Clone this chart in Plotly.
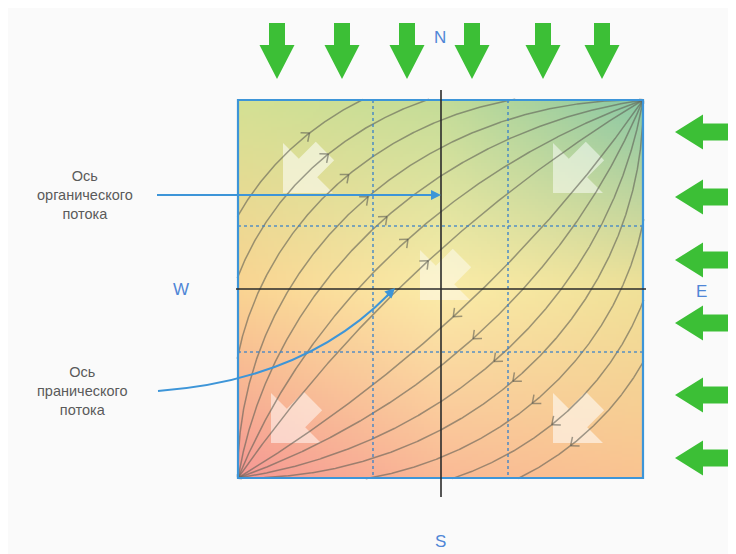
import numpy as np
import plotly.graph_objects as go

# ---------------- data ----------------
CANVAS_W, CANVAS_H = 736, 554
PAGE_OFFSET = 8  # browser body margin compensation
SQUARE = dict(left=238, right=643, top=100, bottom=478)
AXIS_X, AXIS_Y = 441, 289
GRID_X = [373, 508]
GRID_Y = [226, 352]

# departure angles (deg, relative to the diagonal) of the circular flow lines
ARC_ANGLES_UPPER = [12, 24, 36, 46, 56, 65, 73]
ARC_ANGLES_LOWER = [12, 24, 36, 46, 56, 65, 73]
GUIDE_UPPER = [(310, 133), (428, 260)]
GUIDE_LOWER = [(455, 318), (573, 447)]

TOP_ARROW_X = [277, 342, 407, 472, 543, 602]
RIGHT_ARROW_Y = [132, 197, 260, 323, 395, 458]

# white translucent arrows (tip positions, pointing south-west)
WHITE_ARROW_TIPS = [(283, 193), (553, 193), (271, 443), (553, 443), (420, 300)]
WHITE_ARROW_ALPHA = [0.55, 0.5, 0.5, 0.55, 0.45]

COMPASS = [("N", 440, 37), ("S", 440, 541), ("W", 181, 289), ("E", 701, 291)]
LABEL_ORGANIC = ["Ось", "органического", "потока"]
LABEL_PRANIC = ["Ось", "пранического", "потока"]

# background colour nodes (3x3: rows top->bottom, cols left->right)
BG_NODES = [
    [(212, 225, 148), (196, 220, 152), (138, 200, 165)],
    [(250, 212, 146), (251, 236, 168), (240, 225, 152)],
    [(246, 152, 148), (250, 186, 150), (250, 196, 145)],
]

GREEN = "#3cbf36"
BLUE = "#3d95d8"
CURVE_COLOR = "rgba(95,95,85,0.6)"

# ---------------- helpers ----------------
L, R, T, B = SQUARE["left"], SQUARE["right"], SQUARE["top"], SQUARE["bottom"]
SW, SH = R - L, B - T


def to_px(u, v):
    return L + np.asarray(u) * SW, B - np.asarray(v) * SH


fig = go.Figure()

# background gradient
nx, ny = 135, 126
nodes = np.array(BG_NODES, dtype=float)
uu = np.linspace(0, 2, nx)
vv = np.linspace(0, 2, ny)
img = np.zeros((ny, nx, 3))
for j, v in enumerate(vv):
    r0 = int(min(np.floor(v), 1)); fv = v - r0
    for i, u in enumerate(uu):
        c0 = int(min(np.floor(u), 1)); fu = u - c0
        top = nodes[r0, c0] * (1 - fu) + nodes[r0, c0 + 1] * fu
        bot = nodes[r0 + 1, c0] * (1 - fu) + nodes[r0 + 1, c0 + 1] * fu
        img[j, i] = top * (1 - fv) + bot * fv
dx, dy = SW / nx, SH / ny
fig.add_trace(go.Image(z=img.astype(np.uint8), x0=L + dx / 2, dx=dx, y0=T + dy / 2, dy=dy,
                       hoverinfo="skip"))


# white translucent arrows
def sw_arrow(tx, ty, head=50, shaft_w=26, shaft_len=24):
    s = 1 / np.sqrt(2)
    mx, my = tx + head / 2, ty - head / 2
    px_, py_ = shaft_w / 2 * s, shaft_w / 2 * s
    ex, ey = shaft_len * s, -shaft_len * s
    pts = [(tx, ty), (tx + head, ty), (mx + px_, my + py_), (mx + px_ + ex, my + py_ + ey),
           (mx - px_ + ex, my - py_ + ey), (mx - px_, my - py_), (tx, ty - head), (tx, ty)]
    return [p[0] for p in pts], [p[1] for p in pts]


for (tx, ty), a in zip(WHITE_ARROW_TIPS, WHITE_ARROW_ALPHA):
    xs, ys = sw_arrow(tx, ty)
    fig.add_trace(go.Scatter(x=xs, y=ys, mode="lines", fill="toself",
                             fillcolor=f"rgba(255,255,255,{a})", line=dict(width=0),
                             hoverinfo="skip", showlegend=False))


# flow curves: circular arcs through the two corners
def arc_upper(alpha_deg, n=700):
    a = np.radians(alpha_deg)
    c = 0.5 + 0.5 / np.tan(a)
    cu, cv = c, 1 - c
    r = np.hypot(c, 1 - c)
    phiA = np.arctan2(-cv, -cu)
    t = np.linspace(0, 1, n)
    phi = phiA - 2 * a * t
    return cu + r * np.cos(phi), cv + r * np.sin(phi)


def clip(u, v):
    inside = (u >= -0.002) & (u <= 1.002) & (v >= -0.002) & (v <= 1.002)
    X, Y = to_px(u, v)
    X = [float(x) if k else None for x, k in zip(X, inside)]
    Y = [float(y) if k else None for y, k in zip(Y, inside)]
    return X, Y


cx, cy = [], []
curves_upper, curves_lower = [], []
for ang in ARC_ANGLES_UPPER:
    u, v = arc_upper(ang)
    curves_upper.append(to_px(u, v))
    X, Y = clip(u, v)
    cx += X + [None]; cy += Y + [None]
for ang in ARC_ANGLES_LOWER:
    v, u = arc_upper(ang)  # mirror across the diagonal
    curves_lower.append(to_px(u, v))
    X, Y = clip(u, v)
    cx += X + [None]; cy += Y + [None]
fig.add_trace(go.Scatter(x=cx, y=cy, mode="lines", line=dict(color=CURVE_COLOR, width=1.5),
                         hoverinfo="skip", showlegend=False, connectgaps=False))

# chevrons
chx, chy = [], []


def add_chevrons(curves, guide, forward):
    (gx0, gy0), (gx1, gy1) = guide
    for X, Y in curves:
        X = np.asarray(X); Y = np.asarray(Y)
        f = (Y - gy0) * (gx1 - gx0) - (X - gx0) * (gy1 - gy0)
        idx = np.where(np.diff(np.sign(f)) != 0)[0]
        idx = [k for k in idx if 3 < k < len(X) - 4 and L < X[k] < R and T < Y[k] < B]
        if not idx:
            continue
        k = idx[0]
        tx, ty = X[k + 3] - X[k - 3], Y[k + 3] - Y[k - 3]
        nrm = np.hypot(tx, ty)
        tx, ty = forward * tx / nrm, forward * ty / nrm
        px0, py0 = X[k], Y[k]
        for ang in (0.7, -0.7):
            ca, sa = np.cos(ang), np.sin(ang)
            bx, by = -(tx * ca - ty * sa), -(tx * sa + ty * ca)
            chx.extend([px0 + 9 * bx, px0, None])
            chy.extend([py0 + 9 * by, py0, None])


add_chevrons(curves_upper, GUIDE_UPPER, 1)
add_chevrons(curves_lower, GUIDE_LOWER, -1)
fig.add_trace(go.Scatter(x=chx, y=chy, mode="lines", line=dict(color=CURVE_COLOR, width=1.5),
                         hoverinfo="skip", showlegend=False))


# green arrows
def down_arrow(cx_, top=23, tip=79, head_start=45, shaft_w=16, head_w=35):
    xs = [cx_ - shaft_w / 2, cx_ + shaft_w / 2, cx_ + shaft_w / 2, cx_ + head_w / 2, cx_,
          cx_ - head_w / 2, cx_ - shaft_w / 2, cx_ - shaft_w / 2]
    ys = [top, top, head_start, head_start, tip, head_start, head_start, top]
    return xs, ys


def left_arrow(cy_, tail=731, tip=675, head_start=703, shaft_h=17, head_h=35):
    xs = [tail, tail, head_start, head_start, tip, head_start, head_start, tail]
    ys = [cy_ - shaft_h / 2, cy_ + shaft_h / 2, cy_ + shaft_h / 2, cy_ + head_h / 2, cy_,
          cy_ - head_h / 2, cy_ - shaft_h / 2, cy_ - shaft_h / 2]
    return xs, ys


gx, gy = [], []
for x in TOP_ARROW_X:
    xs, ys = down_arrow(x)
    gx += xs + [None]; gy += ys + [None]
for y in RIGHT_ARROW_Y:
    xs, ys = left_arrow(y)
    gx += xs + [None]; gy += ys + [None]
fig.add_trace(go.Scatter(x=gx, y=gy, mode="lines", fill="toself", fillcolor=GREEN,
                         line=dict(width=0, color=GREEN), hoverinfo="skip", showlegend=False))

shapes = []
for x in GRID_X:
    shapes.append(dict(type="line", x0=x, x1=x, y0=T, y1=B,
                       line=dict(color="rgba(60,130,200,0.85)", width=1.6, dash="dot")))
for y in GRID_Y:
    shapes.append(dict(type="line", x0=L, x1=R, y0=y, y1=y,
                       line=dict(color="rgba(60,130,200,0.85)", width=1.6, dash="dot")))
shapes.append(dict(type="rect", x0=L, x1=R, y0=T, y1=B, line=dict(color=BLUE, width=2.2)))
shapes.append(dict(type="line", x0=AXIS_X, x1=AXIS_X, y0=90, y1=497,
                   line=dict(color="#2b2b2b", width=1.6)))
shapes.append(dict(type="line", x0=236, x1=646, y0=AXIS_Y, y1=AXIS_Y,
                   line=dict(color="#2b2b2b", width=1.6)))
shapes.append(dict(type="line", x0=157, x1=432, y0=195, y1=195,
                   line=dict(color=BLUE, width=2)))
shapes.append(dict(type="path", path="M 158 391 Q 305 380 389 294",
                   line=dict(color=BLUE, width=2)))

annotations = []
annotations.append(dict(x=441, y=195, ax=425, ay=195, xref="x", yref="y", axref="x", ayref="y",
                        showarrow=True, arrowhead=2, arrowsize=1, arrowwidth=2,
                        arrowcolor=BLUE, text=""))
annotations.append(dict(x=395, y=288, ax=385, ay=298, xref="x", yref="y", axref="x", ayref="y",
                        showarrow=True, arrowhead=2, arrowsize=1, arrowwidth=2,
                        arrowcolor=BLUE, text=""))
for t, x, y in COMPASS:
    annotations.append(dict(x=x, y=y, xref="x", yref="y", text=t, showarrow=False,
                            font=dict(family="Liberation Sans, Arial", size=17, color="#4f86d6")))
annotations.append(dict(x=85, y=195, xref="x", yref="y", text="<br>".join(LABEL_ORGANIC),
                        showarrow=False, align="center",
                        font=dict(family="Liberation Sans, Arial", size=14.5, color="#5a5a5a")))
annotations.append(dict(x=82, y=391, xref="x", yref="y", text="<br>".join(LABEL_PRANIC),
                        showarrow=False, align="center",
                        font=dict(family="Liberation Sans, Arial", size=14.5, color="#5a5a5a")))

fig.update_layout(
    width=CANVAS_W, height=CANVAS_H, margin=dict(l=0, r=0, t=0, b=0),
    paper_bgcolor="#fafafa", plot_bgcolor="#fafafa", showlegend=False,
    xaxis=dict(range=[PAGE_OFFSET, CANVAS_W + PAGE_OFFSET], visible=False, showgrid=False,
               zeroline=False, fixedrange=True),
    yaxis=dict(range=[CANVAS_H + PAGE_OFFSET, PAGE_OFFSET], visible=False, showgrid=False,
               zeroline=False, fixedrange=True),
    shapes=shapes, annotations=annotations,
)
fig.write_html("out.html", config={"displayModeBar": False})
